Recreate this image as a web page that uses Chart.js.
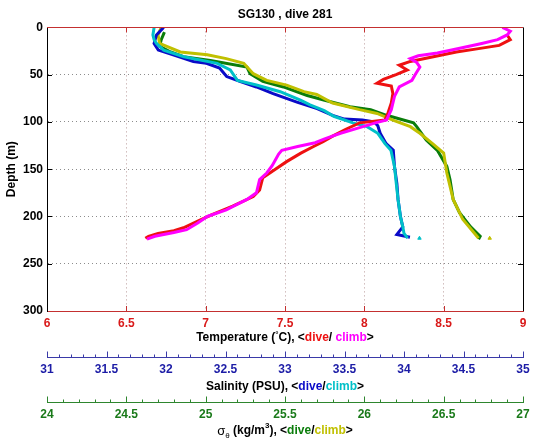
<!DOCTYPE html>
<html>
<head>
<meta charset="utf-8">
<script src="https://cdn.jsdelivr.net/npm/chart.js@4.4.1/dist/chart.umd.min.js"></script>
<style>
  html, body { margin: 0; padding: 0; background: #fff; }
</style>
</head>
<body>
<canvas id="ctdChart" width="535" height="442"></canvas>
<script>
// SG130, dive 281 - depth profiles (depth in m)
const tempDiveDepth = [8, 13, 19, 23, 26, 36, 40, 45, 50, 55, 59, 62, 70, 80, 90, 98, 101, 108, 115, 121, 126, 133, 142, 151, 159, 172, 179, 189, 198, 205, 212, 215, 218, 221, 223];
const tempDive      = [8.90, 8.92, 8.85, 8.70, 8.58, 8.29, 8.22, 8.27, 8.20, 8.12, 8.08, 8.17, 8.18, 8.17, 8.15, 8.13, 7.97, 7.88, 7.80, 7.74, 7.68, 7.60, 7.51, 7.43, 7.36, 7.34, 7.30, 7.17, 7.04, 6.95, 6.86, 6.80, 6.70, 6.64, 6.62];
const tempClimbDepth = [0, 4, 8, 13, 17, 20, 24, 27, 30, 33, 37, 42, 50, 56, 63, 73, 87, 98, 101, 106, 112, 118, 122, 126, 130, 134, 140, 146, 154, 161, 175, 182, 193, 200, 207, 214, 217, 221, 224];
const tempClimb      = [8.87, 8.92, 8.90, 8.84, 8.74, 8.66, 8.55, 8.46, 8.34, 8.29, 8.33, 8.35, 8.32, 8.30, 8.22, 8.19, 8.17, 8.14, 8.07, 7.97, 7.85, 7.75, 7.69, 7.58, 7.48, 7.46, 7.44, 7.42, 7.385, 7.34, 7.32, 7.26, 7.13, 7.01, 6.95, 6.88, 6.80, 6.68, 6.63];

const salDiveDepth = [0, 8, 17, 24, 29, 36, 38, 43, 52, 57, 63, 70, 79, 86, 93, 97, 98, 100, 104, 112, 123, 130, 147, 165, 182, 200, 211, 219, 222];
const salDive      = [31.98, 31.92, 31.90, 31.935, 32.06, 32.23, 32.34, 32.45, 32.51, 32.62, 32.76, 32.90, 33.10, 33.27, 33.40, 33.50, 33.65, 33.75, 33.78, 33.80, 33.85, 33.91, 33.92, 33.94, 33.95, 33.97, 33.99, 33.94, 34.05];
const salClimbDepth = [0, 8, 13, 17, 24, 31, 38, 45, 56, 61, 68, 77, 82, 88, 94, 101, 105, 112, 123, 130, 147, 165, 182, 200, 211, 218, 223];
const salClimb      = [31.90, 31.89, 31.90, 31.92, 31.98, 32.15, 32.43, 32.54, 32.60, 32.76, 32.96, 33.13, 33.21, 33.33, 33.41, 33.57, 33.69, 33.78, 33.84, 33.89, 33.92, 33.935, 33.95, 33.97, 33.99, 34.00, 34.03];
const salStrayDepth = [223];
const salStray      = [34.13];

const sigDiveDepth = [5, 13, 20, 26, 31, 35, 42, 49, 57, 63, 72, 77, 84, 87, 93, 101, 105, 119, 130, 147, 161, 182, 196, 211, 221, 224];
const sigDive      = [24.74, 24.72, 24.71, 24.78, 24.86, 25.03, 25.26, 25.28, 25.36, 25.49, 25.64, 25.75, 25.91, 26.04, 26.14, 26.31, 26.33, 26.39, 26.46, 26.52, 26.54, 26.56, 26.60, 26.67, 26.73, 26.72];
const sigClimbDepth = [0, 8, 17, 20, 26, 29, 33, 38, 49, 56, 61, 68, 71, 80, 87, 91, 98, 105, 112, 123, 133, 154, 182, 203, 217, 223];
const sigClimb      = [24.72, 24.70, 24.71, 24.755, 24.84, 25.01, 25.13, 25.24, 25.30, 25.385, 25.51, 25.62, 25.70, 25.80, 25.97, 26.08, 26.18, 26.29, 26.35, 26.43, 26.50, 26.52, 26.56, 26.62, 26.69, 26.72];
const sigStrayDepth = [223];
const sigStray      = [26.79];

// axis ticks
const depthTicks = [0, 50, 100, 150, 200, 250, 300];
const tempTicks  = [6, 6.5, 7, 7.5, 8, 8.5, 9];
const salLabels  = [31, 31.5, 32, 32.5, 33, 33.5, 34, 34.5, 35];
const sigLabels  = [24, 24.5, 25, 25.5, 26, 26.5, 27];

const C = {
  red: '#ee1111', magenta: '#ff00ff',
  blue: '#0a0ac8', cyan: '#00c0c8',
  green: '#0a7d0a', olive: '#c0c000',
  frameRed: '#c43030', tempLbl: '#d91a1a', salLbl: '#1c1ca6', sigLbl: '#1a7a1a',
  salAxis: '#3a3aa8', sigAxis: '#2e862e'
};
const FONT = 'Liberation Sans, Arial, Helvetica, sans-serif';

function pts(xs, ds) {
  return xs.map((v, i) => ({ x: v, y: ds[i] }));
}
function trace(label, xs, ds, color, axis) {
  return {
    label: label, data: pts(xs, ds), xAxisID: axis, yAxisID: 'y',
    showLine: true, borderColor: color, backgroundColor: color,
    borderWidth: 3, pointRadius: 0, tension: 0
  };
}
function stray(label, xs, ds, color, axis) {
  return {
    label: label, data: pts(xs, ds), xAxisID: axis, yAxisID: 'y',
    showLine: false, borderColor: color, backgroundColor: color,
    pointStyle: 'triangle', pointRadius: 2, borderWidth: 1
  };
}
function isLabel(list, v) {
  return list.some(l => Math.abs(l - v) < 1e-6);
}

// inward tick marks, top/right frame, salinity/sigma ticks
const frameTicks = {
  id: 'frameTicks',
  afterDraw(chart) {
    const ctx = chart.ctx;
    const a = chart.chartArea;
    const sx = chart.scales.x, sy = chart.scales.y;
    ctx.save();
    ctx.lineWidth = 1;
    ctx.strokeStyle = C.frameRed;
    ctx.beginPath();
    ctx.moveTo(a.left, Math.round(a.top) + 0.5);
    ctx.lineTo(a.right, Math.round(a.top) + 0.5);
    tempTicks.slice(1, -1).forEach(v => {
      const px = Math.round(sx.getPixelForValue(v)) + 0.5;
      ctx.moveTo(px, a.top); ctx.lineTo(px, a.top + 5);
      ctx.moveTo(px, a.bottom); ctx.lineTo(px, a.bottom - 5);
    });
    ctx.stroke();
    ctx.strokeStyle = '#000';
    ctx.beginPath();
    ctx.moveTo(Math.round(a.right) + 0.5, a.top);
    ctx.lineTo(Math.round(a.right) + 0.5, a.bottom);
    depthTicks.slice(1, -1).forEach(v => {
      const py = Math.round(sy.getPixelForValue(v)) + 0.5;
      ctx.moveTo(a.left, py); ctx.lineTo(a.left + 5, py);
      ctx.moveTo(a.right, py); ctx.lineTo(a.right - 5, py);
    });
    ctx.stroke();
    [['xs', C.salAxis, salLabels], ['xg', C.sigAxis, sigLabels]].forEach(([id, col, labels]) => {
      const sc = chart.scales[id];
      const y0 = Math.round(sc.top) + 0.5;
      ctx.strokeStyle = col;
      ctx.beginPath();
      sc.ticks.forEach(t => {
        const px = Math.round(sc.getPixelForValue(t.value)) + 0.5;
        const len = isLabel(labels, t.value) ? 6 : 3;
        ctx.moveTo(px, y0); ctx.lineTo(px, y0 - len);
      });
      ctx.stroke();
    });
    ctx.restore();
  }
};

// multi-coloured axis titles
function drawRich(ctx, parts, cx, cy) {
  let total = 0;
  parts.forEach(p => { ctx.font = p.font; p.w = ctx.measureText(p.t).width; total += p.w; });
  let x = cx - total / 2;
  parts.forEach(p => {
    ctx.font = p.font;
    ctx.fillStyle = p.c;
    ctx.textBaseline = 'middle';
    ctx.textAlign = 'left';
    ctx.fillText(p.t, x, cy + (p.dy || 0));
    x += p.w;
  });
}
const axisTitles = {
  id: 'axisTitles',
  afterDraw(chart) {
    const ctx = chart.ctx;
    const a = chart.chartArea;
    const cx = (a.left + a.right) / 2;
    const b = 'bold 12px ' + FONT;
    const small = 'bold 8px ' + FONT;
    ctx.save();
    drawRich(ctx, [
      { t: 'Temperature (', font: b, c: '#000' },
      { t: '°', font: small, c: '#000', dy: -3 },
      { t: 'C), <', font: b, c: '#000' },
      { t: 'dive', font: b, c: C.red },
      { t: '/ ', font: b, c: '#000' },
      { t: 'climb', font: b, c: C.magenta },
      { t: '>', font: b, c: '#000' }
    ], cx, chart.scales.x.top + 27);
    drawRich(ctx, [
      { t: 'Salinity (PSU), <', font: b, c: '#000' },
      { t: 'dive', font: b, c: C.blue },
      { t: '/', font: b, c: '#000' },
      { t: 'climb', font: b, c: C.cyan },
      { t: '>', font: b, c: '#000' }
    ], cx, chart.scales.xs.top + 30);
    drawRich(ctx, [
      { t: 'σ', font: '13px ' + FONT, c: '#000' },
      { t: 'θ', font: '8px ' + FONT, c: '#000', dy: 5 },
      { t: ' (kg/m', font: b, c: '#000' },
      { t: '3', font: small, c: '#000', dy: -5 },
      { t: '), <', font: b, c: '#000' },
      { t: 'dive', font: b, c: C.green },
      { t: '/', font: b, c: '#000' },
      { t: 'climb', font: b, c: C.olive },
      { t: '>', font: b, c: '#000' }
    ], cx, chart.scales.xg.top + 29);
    ctx.restore();
  }
};

const dotted = [1, 3];
const tickFont = { family: FONT, size: 12, weight: 'bold' };

new Chart(document.getElementById('ctdChart'), {
  type: 'scatter',
  data: {
    datasets: [
      trace('T climb', tempClimb, tempClimbDepth, C.magenta, 'x'),
      trace('T dive', tempDive, tempDiveDepth, C.red, 'x'),
      stray('S climb extra', salStray, salStrayDepth, C.cyan, 'xs'),
      trace('S climb', salClimb, salClimbDepth, C.cyan, 'xs'),
      trace('S dive', salDive, salDiveDepth, C.blue, 'xs'),
      stray('sigma climb extra', sigStray, sigStrayDepth, C.olive, 'xg'),
      trace('sigma climb', sigClimb, sigClimbDepth, C.olive, 'xg'),
      trace('sigma dive', sigDive, sigDiveDepth, C.green, 'xg')
    ]
  },
  options: {
    responsive: false,
    animation: false,
    layout: { padding: { left: 0, right: 12, top: 0, bottom: 0 } },
    plugins: {
      legend: { display: false },
      tooltip: { enabled: false },
      title: {
        display: true, fullSize: false,
        text: 'SG130 , dive 281', color: '#000',
        font: { family: FONT, size: 12, weight: 'bold' },
        padding: { top: 7, bottom: 6 }
      }
    },
    scales: {
      x: {
        type: 'linear', position: 'bottom', weight: 0,
        min: 6, max: 9,
        afterBuildTicks: sc => { sc.ticks = tempTicks.map(v => ({ value: v })); },
        afterFit: sc => { sc.height = 46; },
        ticks: { color: C.tempLbl, font: tickFont, padding: 5, autoSkip: false, maxRotation: 0,
                 callback: v => String(v) },
        grid: {
          drawTicks: false,
          color: c => (c.tick && (c.tick.value === 6 || c.tick.value === 9)) ? 'rgba(0,0,0,0)' : '#b89a9a'
        },
        border: { display: true, color: C.frameRed, width: 1, dash: dotted }
      },
      xs: {
        type: 'linear', position: 'bottom', weight: 1,
        min: 31, max: 35,
        afterFit: sc => { sc.height = 45; },
        ticks: { stepSize: 0.1, color: C.salLbl, font: tickFont, padding: 5, autoSkip: false, maxRotation: 0,
                 callback: v => isLabel(salLabels, v) ? String(Math.round(v * 10) / 10) : '' },
        grid: { display: false, drawTicks: false },
        border: { display: true, color: C.salAxis, width: 1 }
      },
      xg: {
        type: 'linear', position: 'bottom', weight: 2,
        min: 24, max: 27,
        afterFit: sc => { sc.height = 40; },
        ticks: { stepSize: 0.1, color: C.sigLbl, font: tickFont, padding: 5, autoSkip: false, maxRotation: 0,
                 callback: v => isLabel(sigLabels, v) ? String(Math.round(v * 10) / 10) : '' },
        grid: { display: false, drawTicks: false },
        border: { display: true, color: C.sigAxis, width: 1 }
      },
      y: {
        type: 'linear', position: 'left', reverse: true,
        min: 0, max: 300,
        afterBuildTicks: sc => { sc.ticks = depthTicks.map(v => ({ value: v })); },
        afterFit: sc => { sc.width = 47; },
        ticks: { color: '#000', font: tickFont, padding: 4, autoSkip: false },
        title: { display: true, text: 'Depth (m)', color: '#000',
                 font: { family: FONT, size: 12, weight: 'bold' }, padding: { top: 4, bottom: 0 } },
        grid: {
          drawTicks: false,
          color: c => (c.tick && (c.tick.value === 0 || c.tick.value === 300)) ? 'rgba(0,0,0,0)' : '#8c8c8c'
        },
        border: { display: true, color: '#000', width: 1, dash: dotted }
      }
    }
  },
  plugins: [frameTicks, axisTitles]
});
</script>
</body>
</html>
